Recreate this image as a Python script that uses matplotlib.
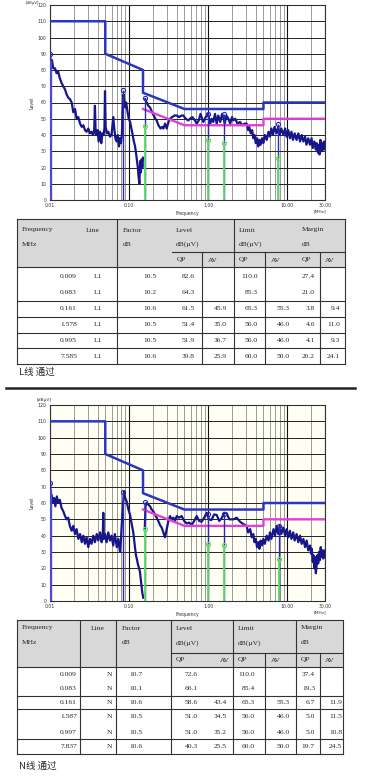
#!/usr/bin/env python3
import matplotlib

matplotlib.use("Agg")
import matplotlib.pyplot as plt
from matplotlib.ticker import FixedLocator, NullFormatter

W, H = 390, 782

# limit lines (MHz, dBuV)
QP_LIMIT_F = [0.01, 0.05, 0.05, 0.15, 0.15, 0.5, 5.0, 5.0, 30.0]
QP_LIMIT_V = [110, 110, 90, 80, 66, 56, 56, 60, 60]
AV_LIMIT_F = [0.15, 0.5, 5.0, 5.0, 30.0]
AV_LIMIT_V = [56, 46, 46, 50, 50]

# L line spectrum, 9 kHz - 150 kHz sweep
L_LOW_F = [0.0100, 0.0103, 0.0106, 0.0110, 0.0116, 0.0121, 0.0127, 0.0133, 0.0140, 0.0147,
           0.0155, 0.0162, 0.0170, 0.0179, 0.0188, 0.0197, 0.0207, 0.0217, 0.0228, 0.0240,
           0.0252, 0.0264, 0.0277, 0.0290, 0.0305, 0.0320, 0.0335, 0.0350, 0.0362, 0.0370,
           0.0378, 0.0389, 0.0400, 0.0412, 0.0429, 0.0445, 0.0460, 0.0475, 0.0488, 0.0496,
           0.0505, 0.0525, 0.0546, 0.0573, 0.0600, 0.0630, 0.0650, 0.0670, 0.0697, 0.0720,
           0.0745, 0.0767, 0.0790, 0.0810, 0.0830, 0.0850, 0.0870, 0.0890, 0.0920, 0.0950,
           0.0990, 0.1030, 0.1070, 0.1110, 0.1150, 0.1190, 0.1230, 0.1260, 0.1290, 0.1320,
           0.1350, 0.1380, 0.1410, 0.1440, 0.1470, 0.1500]
L_LOW_V = [88, 84, 86, 81, 81, 78, 79, 75, 72, 70,
           68, 65, 63, 62, 60, 54, 56, 50, 51, 47,
           45, 46, 43, 42, 44, 41, 42, 40, 43, 58,
           41, 40, 43, 36, 42, 35, 41, 40, 44, 67,
           45, 41, 42, 39, 40, 51, 44, 38, 36, 40,
           33, 38, 35, 40, 55, 65, 61, 57, 60, 55,
           50, 48, 44, 40, 36, 33, 28, 24, 20, 14,
           10, 24, 17, 25, 20, 26]

# L line spectrum, 150 kHz - 30 MHz sweep
L_HIGH_F = [0.160, 0.167, 0.175, 0.184, 0.195, 0.205, 0.215, 0.223, 0.235, 0.250,
            0.262, 0.271, 0.285, 0.299, 0.315, 0.329, 0.350, 0.375, 0.400, 0.430,
            0.460, 0.485, 0.520, 0.560, 0.589, 0.630, 0.680, 0.716, 0.760, 0.800,
            0.867, 0.930, 1.000, 1.060, 1.110, 1.160, 1.220, 1.280, 1.340, 1.420,
            1.500, 1.550, 1.620, 1.700, 1.800, 1.900, 2.000, 2.080, 2.200, 2.350,
            2.520, 2.700, 2.900, 3.070, 3.200, 3.300, 3.450, 3.600, 3.720, 3.850,
            4.000, 4.150, 4.300, 4.450, 4.600, 4.800, 4.980, 5.200, 5.500, 5.800,
            6.040, 6.300, 6.600, 6.900, 7.340, 7.700, 8.000, 8.400, 8.910, 9.400,
            9.800, 10.30, 10.80, 11.30, 11.80, 12.40, 13.10, 13.80, 14.50, 15.20,
            16.00, 16.80, 17.50, 18.40, 19.40, 20.30, 21.00, 22.00, 23.00, 23.50,
            24.50, 25.00, 25.60, 26.20, 27.20, 28.00, 28.80, 29.40, 30.00]
L_HIGH_V = [62, 60, 58, 57, 54, 52, 50, 49, 46, 44,
            45, 44, 47, 44, 48, 50, 51, 52, 52, 51,
            52, 52, 50, 49, 50, 51, 49, 47, 49, 53,
            48, 51, 53, 47, 50, 48, 53, 47, 52, 48,
            53, 51, 47, 52, 50, 47, 51, 49, 50, 47,
            48, 46, 47, 47, 43, 45, 41, 43, 38, 40,
            35, 38, 33, 37, 34, 38, 35, 40, 37, 42,
            39, 44, 40, 45, 41, 45, 40, 44, 40, 44,
            39, 43, 38, 42, 37, 41, 37, 41, 36, 40,
            36, 39, 34, 38, 34, 38, 32, 36, 31, 35,
            29, 34, 28, 37, 30, 35, 31, 36, 33]

# N line spectrum, 9 kHz - 150 kHz sweep
N_LOW_F = [0.0100, 0.0102, 0.0105, 0.0109, 0.0113, 0.0117, 0.0122, 0.0127, 0.0133, 0.0140,
           0.0147, 0.0155, 0.0162, 0.0170, 0.0178, 0.0188, 0.0197, 0.0207, 0.0217, 0.0228,
           0.0240, 0.0252, 0.0264, 0.0277, 0.0290, 0.0305, 0.0320, 0.0335, 0.0352, 0.0370,
           0.0390, 0.0408, 0.0430, 0.0450, 0.0465, 0.0472, 0.0480, 0.0496, 0.0520, 0.0545,
           0.0573, 0.0600, 0.0630, 0.0660, 0.0700, 0.0730, 0.0767, 0.0790, 0.0806, 0.0835,
           0.0863, 0.0895, 0.0931, 0.0980, 0.1026, 0.1080, 0.1130, 0.1180, 0.1220, 0.1250,
           0.1300, 0.1340, 0.1370, 0.1400, 0.1430, 0.1470, 0.1510]
N_LOW_V = [73, 60, 65, 60, 63, 58, 64, 60, 62, 57,
           55, 52, 50, 51, 46, 43, 46, 41, 44, 38,
           41, 36, 40, 35, 39, 33, 38, 35, 40, 36,
           41, 37, 42, 36, 40, 54, 38, 41, 36, 42,
           37, 40, 34, 41, 33, 38, 30, 38, 46, 58,
           67, 63, 61, 56, 53, 47, 42, 34, 28, 26,
           22, 20, 18, 14, 10, 5, 2]

# N line spectrum, 150 kHz - 30 MHz sweep
N_HIGH_F = [0.158, 0.161, 0.167, 0.175, 0.184, 0.193, 0.202, 0.212, 0.223, 0.234,
            0.246, 0.258, 0.271, 0.285, 0.299, 0.314, 0.329, 0.345, 0.363, 0.380,
            0.400, 0.430, 0.462, 0.497, 0.534, 0.575, 0.617, 0.665, 0.716, 0.770,
            0.826, 0.890, 0.955, 1.020, 1.100, 1.190, 1.280, 1.380, 1.480, 1.590,
            1.710, 1.850, 2.080, 2.300, 2.520, 2.800, 3.070, 3.200, 3.400, 3.550,
            3.720, 3.850, 4.000, 4.150, 4.300, 4.450, 4.600, 4.800, 4.980, 5.200,
            5.500, 5.800, 6.040, 6.300, 6.700, 7.000, 7.340, 7.700, 8.000, 8.400,
            8.910, 9.400, 9.800, 10.30, 10.80, 11.30, 11.90, 12.40, 13.10, 13.80,
            14.50, 15.20, 16.00, 16.80, 17.60, 18.40, 19.40, 20.00, 20.40, 21.00,
            21.40, 22.00, 22.40, 23.00, 23.50, 24.00, 24.60, 25.20, 25.80, 26.50,
            27.00, 27.80, 28.50, 29.20, 30.00]
N_HIGH_V = [44, 58, 60, 59, 58, 56, 55, 53, 51, 49,
            46.5, 45, 42, 39, 44, 49, 52, 50, 51, 49,
            52, 51, 52, 49, 47.5, 48, 46.5, 49, 52, 49,
            48.5, 51, 54, 50, 49.6, 53, 52.7, 49, 50.6, 54,
            53.7, 50, 50, 51, 48.6, 47, 46, 42, 44, 39,
            41, 36, 38, 33, 36, 32, 37, 34, 38, 35,
            40, 37, 42, 38, 44, 40, 46, 41, 46, 41,
            45, 40, 44, 39, 43, 38, 42, 37, 41, 36,
            40, 35, 38, 33, 37, 31, 34, 29, 32, 24,
            28, 20, 27, 17, 22, 28, 23, 30, 25, 33,
            27, 31, 26, 31, 27]

# marker stems
L_QP_MARK_F = [0.0101, 0.083, 0.161, 0.995, 1.578, 7.585]
L_QP_MARK_V = [90, 68, 62.5, 53, 53, 46.5]
L_AV_MARK_F = [0.161, 0.995, 1.578, 7.585]
L_AV_MARK_V = [45.5, 37, 35, 26]
N_QP_MARK_F = [0.0101, 0.083, 0.161, 0.997, 1.587, 7.837]
N_QP_MARK_V = [72, 67, 60.6, 53, 53, 46]
N_AV_MARK_F = [0.161, 0.997, 1.587, 7.837]
N_AV_MARK_V = [44, 35, 34, 25.7]

X_TICKS = [0.01, 0.1, 1.0, 10.0, 30.0]
X_TICK_LABELS = ["0.01", "0.10", "1.00", "10.00", "30.00"]
Y_TICKS = list(range(0, 121, 10))

# result tables
L_FREQ = ["0.009", "0.083", "0.161", "1.578", "0.995", "7.585"]
L_LINE = ["L1", "L1", "L1", "L1", "L1", "L1"]
L_FACTOR = ["10.5", "10.2", "10.6", "10.5", "10.5", "10.6"]
L_LEVEL_QP = ["82.6", "64.3", "61.5", "51.4", "51.9", "39.8"]
L_LEVEL_AV = ["", "", "45.9", "35.0", "36.7", "25.9"]
L_LIMIT_QP = ["110.0", "85.3", "65.3", "56.0", "56.0", "60.0"]
L_LIMIT_AV = ["", "", "55.3", "46.0", "46.0", "50.0"]
L_MARGIN_QP = ["27.4", "21.0", "3.8", "4.6", "4.1", "20.2"]
L_MARGIN_AV = ["", "", "9.4", "11.0", "9.3", "24.1"]

N_FREQ = ["0.009", "0.083", "0.161", "1.587", "0.997", "7.837"]
N_LINE = ["N", "N", "N", "N", "N", "N"]
N_FACTOR = ["10.7", "10.1", "10.6", "10.5", "10.5", "10.6"]
N_LEVEL_QP = ["72.6", "66.1", "58.6", "51.0", "51.0", "40.3"]
N_LEVEL_AV = ["", "", "43.4", "34.5", "35.2", "25.5"]
N_LIMIT_QP = ["110.0", "85.4", "65.3", "56.0", "56.0", "60.0"]
N_LIMIT_AV = ["", "", "55.3", "46.0", "46.0", "50.0"]
N_MARGIN_QP = ["37.4", "19.3", "6.7", "5.0", "5.0", "19.7"]
N_MARGIN_AV = ["", "", "11.9", "11.5", "10.8", "24.5"]

HEAD_TOP = ["Frequency", "Line", "Factor", "Level", "Limit", "Margin"]
HEAD_MID = ["MHz", "", "dB", "dB(µV)", "dB(µV)", "dB"]
HEAD_SUB = ["QP", "AV", "QP", "AV", "QP", "AV"]

SPEC_COLOR = "#16168a"
QP_COLOR = "#2a35c0"
AV_COLOR = "#e040d8"
GREEN = "#5fe05f"
TXT = "#262626"
SERIF = ["Liberation Serif", "DejaVu Serif"]
CJK = ["Noto Sans CJK SC", "DejaVu Sans"]


def spectrum_axes(fig, box, low, high, qp_marks, av_marks, facecolor):
    x0, y0, x1, y1 = box
    ax = fig.add_axes([x0 / W, 1 - y1 / H, (x1 - x0) / W, (y1 - y0) / H], facecolor=facecolor)
    ax.set_xscale("log")
    ax.set_xlim(0.01, 30)
    ax.set_ylim(0, 120)

    minors = [m * d for d in (0.01, 0.1, 1.0) for m in range(2, 10)] + [20.0]
    ax.xaxis.set_major_locator(FixedLocator(X_TICKS))
    ax.xaxis.set_minor_locator(FixedLocator(minors))
    ax.xaxis.set_minor_formatter(NullFormatter())
    ax.set_xticklabels(X_TICK_LABELS)
    ax.set_yticks(Y_TICKS)
    ax.tick_params(which="both", length=0, labelsize=3.3, pad=2.5, colors="#333333")
    ax.grid(True, which="major", axis="x", color="#111111", linewidth=0.8)
    ax.grid(True, which="minor", axis="x", color="#8c8c8c", linewidth=0.6)
    ax.grid(True, which="major", axis="y", color="#222222", linewidth=0.7)
    ax.set_axisbelow(True)
    for sp in ax.spines.values():
        sp.set_linewidth(0.8)
        sp.set_color("#333333")

    for f, v in (low, high):
        ax.plot(f, v, color=SPEC_COLOR, linewidth=1.6, zorder=3)
    ax.plot(QP_LIMIT_F, QP_LIMIT_V, color=QP_COLOR, linewidth=1.8, zorder=4)
    ax.plot(AV_LIMIT_F, AV_LIMIT_V, color=AV_COLOR, linewidth=1.7, zorder=4)

    qf, qv = qp_marks
    ax.vlines(qf, 0, qv, color="#2b2bb0", linewidth=1.0, zorder=5)
    ax.plot(qf, qv, "o", mfc="none", mec="#2b2bb0", ms=3, mew=0.8, zorder=6)
    ax.vlines(qf[0], 0, qv[0] - 4, color="#4a4ad0", linewidth=2.4, zorder=5)
    af, av = av_marks
    ax.vlines(af, 0, av, color=GREEN, linewidth=1.3, zorder=6)
    ax.plot(af, av, "o", mfc="none", mec=GREEN, ms=3, mew=0.8, zorder=7)

    ax.set_xlabel("Frequency", fontsize=3.3, labelpad=1.5, color="#333333")
    ax.set_ylabel("Level", fontsize=3.3, labelpad=2, color="#333333")
    return ax


def draw_table(bg, geo, cols):
    left, right = geo["left"], geo["right"]
    bg.fill_between([left, right], geo["top"], geo["head_bot"], color="#d8d8d8", linewidth=0, zorder=0)
    for y in geo["hlines"]:
        bg.plot([left, right], [y, y], color="#333333", linewidth=0.8)
    bg.plot([geo["sub_left"], right], [geo["sub_y"], geo["sub_y"]], color="#333333", linewidth=0.8)
    for x in geo["vfull"]:
        bg.plot([x, x], [geo["top"], geo["bottom"]], color="#333333", linewidth=0.8)
    for x in geo["vpart"]:
        bg.plot([x, x], [geo["sub_y"], geo["bottom"]], color="#333333", linewidth=0.8)

    kw = dict(fontsize=5.4, family=SERIF, color=TXT, va="center")
    for x, s in zip(geo["head_x"], HEAD_TOP):
        bg.text(x, geo["head_y"][0], s, ha="left", **kw)
    for x, s in zip(geo["head_x"], HEAD_MID):
        bg.text(x, geo["head_y"][1], s, ha="left", **kw)
    for x, s in zip(geo["sub_x"], HEAD_SUB):
        bg.text(x, geo["head_y"][2], s, ha="left", **kw)
    for x, col in zip(geo["col_x"], cols):
        for y, s in zip(geo["row_y"], col):
            bg.text(x, y, s, ha="right", **kw)


def main() -> None:
    fig = plt.figure(figsize=(W / 100, H / 100), dpi=100)
    fig.patch.set_facecolor("white")

    bg = fig.add_axes([0, 0, 1, 1])
    bg.set_xlim(0, W)
    bg.set_ylim(H, 0)
    bg.axis("off")

    spectrum_axes(fig, (50, 5, 325, 200), (L_LOW_F, L_LOW_V), (L_HIGH_F, L_HIGH_V),
                  (L_QP_MARK_F, L_QP_MARK_V), (L_AV_MARK_F, L_AV_MARK_V), "white")
    spectrum_axes(fig, (50, 405, 325, 601), (N_LOW_F, N_LOW_V), (N_HIGH_F, N_HIGH_V),
                  (N_QP_MARK_F, N_QP_MARK_V), (N_AV_MARK_F, N_AV_MARK_V), "#fffff4")

    bg.text(39, 3, "[dBµV]", fontsize=2.8, color="#333333", ha="right", va="center")
    bg.text(44, 400, "[dBµV]", fontsize=3.2, color="#333333", ha="center", va="center")
    for y in (211, 612):
        bg.text(320, y, "[MHz]", fontsize=3.2, color="#333333", ha="center", va="center")

    l_geo = dict(left=17, right=345, top=219, head_bot=267, bottom=364,
                 sub_y=252, sub_left=172,
                 hlines=[219, 267, 301, 317, 333, 348, 364],
                 vfull=[17, 117, 234, 345], vpart=[202, 265, 320],
                 head_y=[230, 244, 260], row_y=[276, 292, 309, 325, 341, 356],
                 head_x=[22, 86, 123, 176, 239, 302],
                 sub_x=[177, 208, 239, 271, 302, 325],
                 col_x=[77, 102, 156, 195, 227, 258, 290, 315, 340])
    draw_table(bg, l_geo, [L_FREQ, L_LINE, L_FACTOR, L_LEVEL_QP, L_LEVEL_AV,
                           L_LIMIT_QP, L_LIMIT_AV, L_MARGIN_QP, L_MARGIN_AV])
    bg.text(19, 372, "L线 通过", fontsize=6.8, family=CJK, color=TXT, ha="left", va="center")
    bg.plot([6, 355], [388, 388], color="#222222", linewidth=1.8)

    n_geo = dict(left=17, right=343, top=620, head_bot=667, bottom=754,
                 sub_y=653, sub_left=171,
                 hlines=[620, 667, 696, 709, 739, 754],
                 vfull=[17, 80, 116, 171, 233, 296, 343], vpart=[265, 320],
                 head_y=[628, 643, 660], row_y=[675, 689, 703, 717, 732, 747],
                 head_x=[22, 91, 122, 176, 238, 301],
                 sub_x=[176, 220, 238, 271, 301, 325],
                 col_x=[77, 112, 143, 198, 227, 255, 290, 315, 342])
    draw_table(bg, n_geo, [N_FREQ, N_LINE, N_FACTOR, N_LEVEL_QP, N_LEVEL_AV,
                           N_LIMIT_QP, N_LIMIT_AV, N_MARGIN_QP, N_MARGIN_AV])
    bg.text(19, 766, "N线 通过", fontsize=6.8, family=CJK, color=TXT, ha="left", va="center")

    fig.savefig("out.png", dpi=100)


if __name__ == "__main__":
    main()
